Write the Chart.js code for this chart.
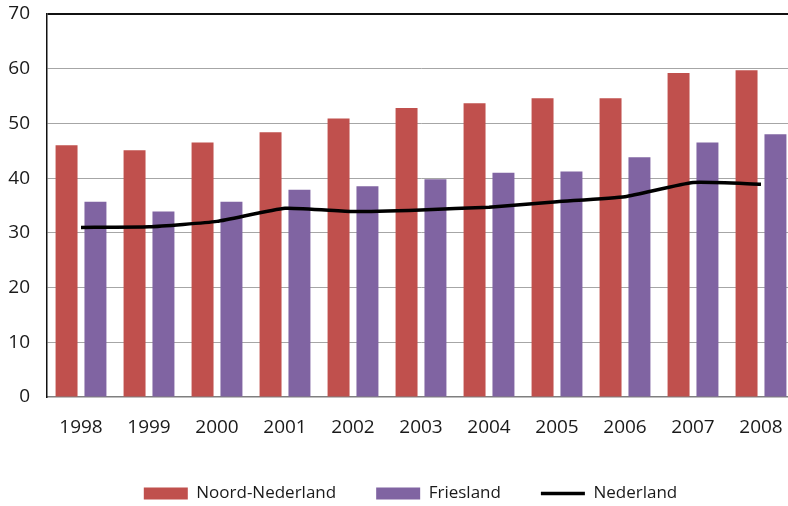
<!DOCTYPE html>
<html>
<head>
<meta charset="utf-8">
<script src="https://cdn.jsdelivr.net/npm/chart.js@4"></script>
<style>
html,body{margin:0;padding:0;background:#fff;overflow:hidden;}
#wrap{width:788px;height:506px;overflow:hidden;}
#c{display:block;}
</style>
</head>
<body>
<div id="wrap"><canvas id="c" width="795" height="506"></canvas></div>
<script>
const years = ['1998','1999','2000','2001','2002','2003','2004','2005','2006','2007','2008'];
const noordNederland = [46.0, 45.1, 46.5, 48.4, 50.9, 52.8, 53.7, 54.6, 54.6, 59.2, 59.7];
const friesland = [35.7, 33.9, 35.7, 37.9, 38.5, 39.8, 41.0, 41.2, 43.8, 46.5, 48.0];
const nederland = [31.0, 31.1, 32.1, 34.5, 33.9, 34.2, 34.7, 35.7, 36.6, 39.2, 38.9];
const seriesNames = ['Noord-Nederland', 'Friesland', 'Nederland'];
const yMin = 0, yMax = 70, yStep = 10;

const FONT = '"Open Sans", Lato, sans-serif';

const legendShift = {
  id: 'legendShift',
  afterLayout(chart) {
    const l = chart.legend;
    if (l) { l.left += 13; l.right += 13; }
  }
};

new Chart(document.getElementById('c'), {
  data: {
    labels: years,
    datasets: [
      { type: 'bar', label: seriesNames[0], data: noordNederland, backgroundColor: '#C0504D', borderWidth: 0, order: 1, pointStyle: 'rect' },
      { type: 'bar', label: seriesNames[1], data: friesland, backgroundColor: '#8064A2', borderWidth: 0, order: 1, pointStyle: 'rect' },
      { type: 'line', label: seriesNames[2], data: nederland, borderColor: '#000', backgroundColor: '#000', borderWidth: 3.5, pointRadius: 0, tension: 0.15, order: 0, pointStyle: 'line' }
    ]
  },
  plugins: [legendShift],
  options: {
    responsive: false,
    animation: false,
    devicePixelRatio: 1,
    layout: { padding: { top: 14, left: 0, right: 0, bottom: -6 } },
    datasets: { bar: { categoryPercentage: 0.85, barPercentage: 0.76 } },
    scales: {
      x: {
        grid: { display: false, drawTicks: false },
        border: { display: true, color: '#7f7f7f', width: 1.5 },
        ticks: { padding: 19, color: '#1a1a1a', font: { family: FONT, size: 19 }, maxRotation: 0 },
        afterFit: s => { s.height = 48; s.paddingLeft = 0; s.paddingRight = 0; }
      },
      y: {
        min: yMin, max: yMax,
        grid: {
          drawTicks: false,
          color: ctx => (ctx.tick && ctx.tick.value === yMax) ? '#111' : (ctx.tick && ctx.tick.value === yMin ? 'rgba(0,0,0,0)' : '#a6a6a6'),
          lineWidth: ctx => (ctx.tick && ctx.tick.value === yMax) ? 2 : 1
        },
        border: { display: true, color: '#111', width: 1.5 },
        ticks: { stepSize: yStep, padding: 17, color: '#1a1a1a', font: { family: FONT, size: 19 } },
        afterFit: s => { s.width = 47; s.paddingTop = 0; s.paddingBottom = 0; }
      }
    },
    plugins: {
      tooltip: { enabled: false },
      legend: {
        position: 'bottom',
        labels: {
          usePointStyle: true,
          pointStyleWidth: 44,
          boxHeight: 12,
          padding: 40,
          color: '#1a1a1a',
          font: { family: FONT, size: 17 },
          sort: (a, b) => a.datasetIndex - b.datasetIndex
        }
      }
    }
  }
});
</script>
</body>
</html>
